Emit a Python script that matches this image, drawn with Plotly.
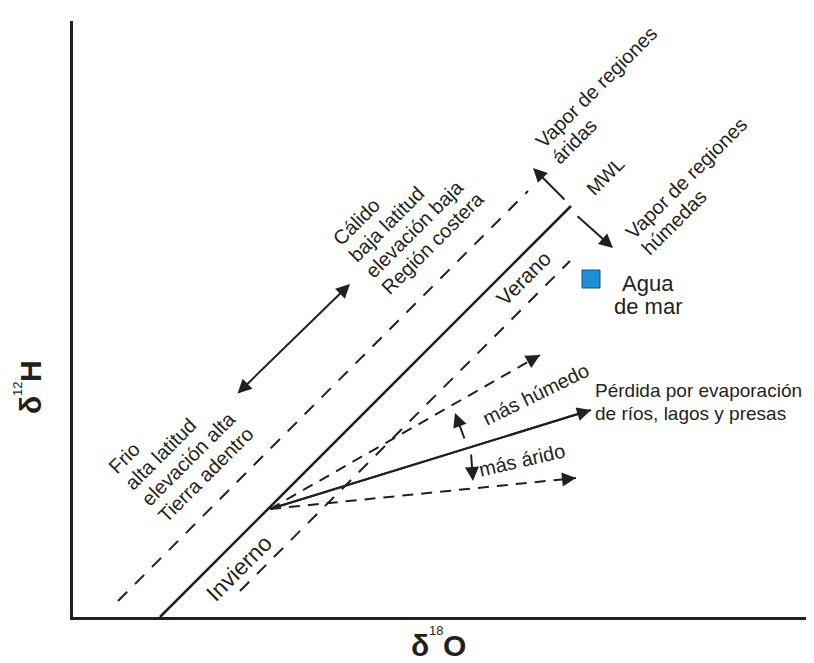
import math
import plotly.graph_objects as go

# ---------------- data (schematic units: δ18O → right, δ2H → up) ----------------
mwl_x = [87, 498]
mwl_y = [0, 411]
upper_band_x = [45, 455]
upper_band_y = [16, 426]
lower_band_x = [167, 497]
lower_band_y = [26, 356]

fan_origin_x = 197
fan_origin_y = 108
fan_names = ["más húmedo", "evaporación", "más árido"]
fan_tip_x = [467, 518, 503]
fan_tip_y = [262, 207, 139]
fan_dash = [True, False, True]

seawater_x = [518]
seawater_y = [338]

# arrows: (tail_x, tail_y, head_x, head_y)
arrow_dry_vapor = (493, 416, 460, 449)
arrow_wet_vapor = (503, 402, 540, 369)
arrow_wetter = (392, 177, 382, 204)
arrow_drier = (398, 164, 400, 136)
double_arrow = (163, 222, 277, 333)

# ---------------- styling ----------------
INK = "#231f20"
FONT = "Liberation Sans, Arial, sans-serif"
W, H = 814, 663
X0, Y0, Y1 = 65, 609, 13   # axis corner and top in page pixels
XR = W - X0
YR = Y0 - Y1

fig = go.Figure()

fig.add_trace(go.Scatter(x=mwl_x, y=mwl_y, mode="lines",
                         line=dict(color=INK, width=2.6), hoverinfo="skip"))
fig.add_trace(go.Scatter(x=upper_band_x, y=upper_band_y, mode="lines",
                         line=dict(color=INK, width=2, dash="13px,11px"), hoverinfo="skip"))
fig.add_trace(go.Scatter(x=lower_band_x, y=lower_band_y, mode="lines",
                         line=dict(color=INK, width=2, dash="13px,11px"), hoverinfo="skip"))

annotations = []


def arrow(tx, ty, hx, hy, side="end", width=2):
    annotations.append(dict(x=hx, y=hy, ax=tx, ay=ty, xref="x", yref="y",
                            axref="x", ayref="y", showarrow=True, arrowhead=2,
                            startarrowhead=2, arrowside=side, arrowsize=1.4,
                            startarrowsize=1.4,
                            arrowwidth=width, arrowcolor=INK, text=""))


for tx, ty, d in zip(fan_tip_x, fan_tip_y, fan_dash):
    fig.add_trace(go.Scatter(x=[fan_origin_x, tx], y=[fan_origin_y, ty], mode="lines",
                             line=dict(color=INK, width=2,
                                       dash="11px,8px" if d else "solid"),
                             hoverinfo="skip"))
    if d:
        L = math.hypot(tx - fan_origin_x, ty - fan_origin_y)
        bx = tx - (tx - fan_origin_x) * 10 / L
        by = ty - (ty - fan_origin_y) * 10 / L
        arrow(bx, by, tx, ty)
    else:
        arrow(fan_origin_x, fan_origin_y, tx, ty)

for a in (arrow_dry_vapor, arrow_wet_vapor, arrow_wetter, arrow_drier):
    arrow(*a)
arrow(*double_arrow, side="end+start")

fig.add_trace(go.Scatter(x=seawater_x, y=seawater_y, mode="markers",
                         marker=dict(symbol="square", size=18, color="#1b8fd8",
                                     line=dict(color="#1a4f7a", width=1)),
                         hoverinfo="skip"))


def label(x, y, text, angle=0, size=20, xa="center", ya="middle"):
    annotations.append(dict(x=x, y=y, xref="x", yref="y", text=text, showarrow=False,
                            textangle=angle, xanchor=xa, yanchor=ya,
                            font=dict(family=FONT, size=size, color=INK)))


def rotated_block(sx, sy, lines, spacing=23, size=20):
    # left-aligned lines rising at 45°; (sx, sy) = start of first line (mid height)
    h = size * 1.25 + 2
    k = 0.3536 * h
    for i, t in enumerate(lines):
        lx = sx + i * spacing * 0.7071
        ly = sy - i * spacing * 0.7071
        label(lx - k, ly - k, t, angle=-45, size=size, xa="left", ya="bottom")


rotated_block(262, 374, ["Cálido", "baja latitud", "elevación baja", "Región costera"])
rotated_block(38, 146, ["Frio", "alta latitud", "elevación alta", "Tierra adentro"])
rotated_block(465, 472, ["Vapor de regiones", "áridas"])
rotated_block(555, 381, ["Vapor de regiones", "húmedas"])

label(532, 441, "MWL", angle=-45, size=19)
label(450, 339, "Verano", angle=-45, size=21)
label(166, 49, "Invierno", angle=-45, size=23)
label(463, 223, "más húmedo", angle=-26, size=20)
label(449, 157, "más árido", angle=-13, size=20)

label(520, 227, "Pérdida por evaporación", size=19, xa="left")
label(520, 204, "de ríos, lagos y presas", size=19, xa="left")
label(575, 334, "Agua", size=22)
label(575, 311, "de mar", size=22)


def page_text(px, py, text, size, bold=False, angle=0):
    annotations.append(dict(x=px / W, y=(H - py) / H, xref="paper", yref="paper",
                            showarrow=False, text=text, textangle=angle,
                            xanchor="center", yanchor="middle",
                            font=dict(family=FONT, size=size, color=INK,
                                      weight="bold" if bold else "normal")))


# x-axis title: δ18O
page_text(412, 637, "δ", 30, bold=True)
page_text(428, 622, "18", 13)
page_text(446, 637, "O", 30, bold=True)
# y-axis title: δ12H (reads bottom to top)
page_text(22, 397, "δ", 30, bold=True, angle=-90)
page_text(10, 381, "12", 13, angle=-90)
page_text(22, 363, "H", 30, bold=True, angle=-90)

fig.update_layout(
    width=W, height=H, margin=dict(l=0, r=0, t=0, b=0),
    paper_bgcolor="white", plot_bgcolor="white", showlegend=False,
    annotations=annotations,
    xaxis=dict(domain=[X0 / W, 1], range=[0, XR], showgrid=False, zeroline=False,
               showticklabels=False, ticks="", showline=True, linewidth=3,
               linecolor=INK, fixedrange=True),
    yaxis=dict(domain=[(H - Y0) / H, (H - Y1) / H], range=[0, YR], showgrid=False,
               zeroline=False, showticklabels=False, ticks="", showline=True,
               linewidth=3, linecolor=INK, fixedrange=True),
)

fig.write_html("out.html")
